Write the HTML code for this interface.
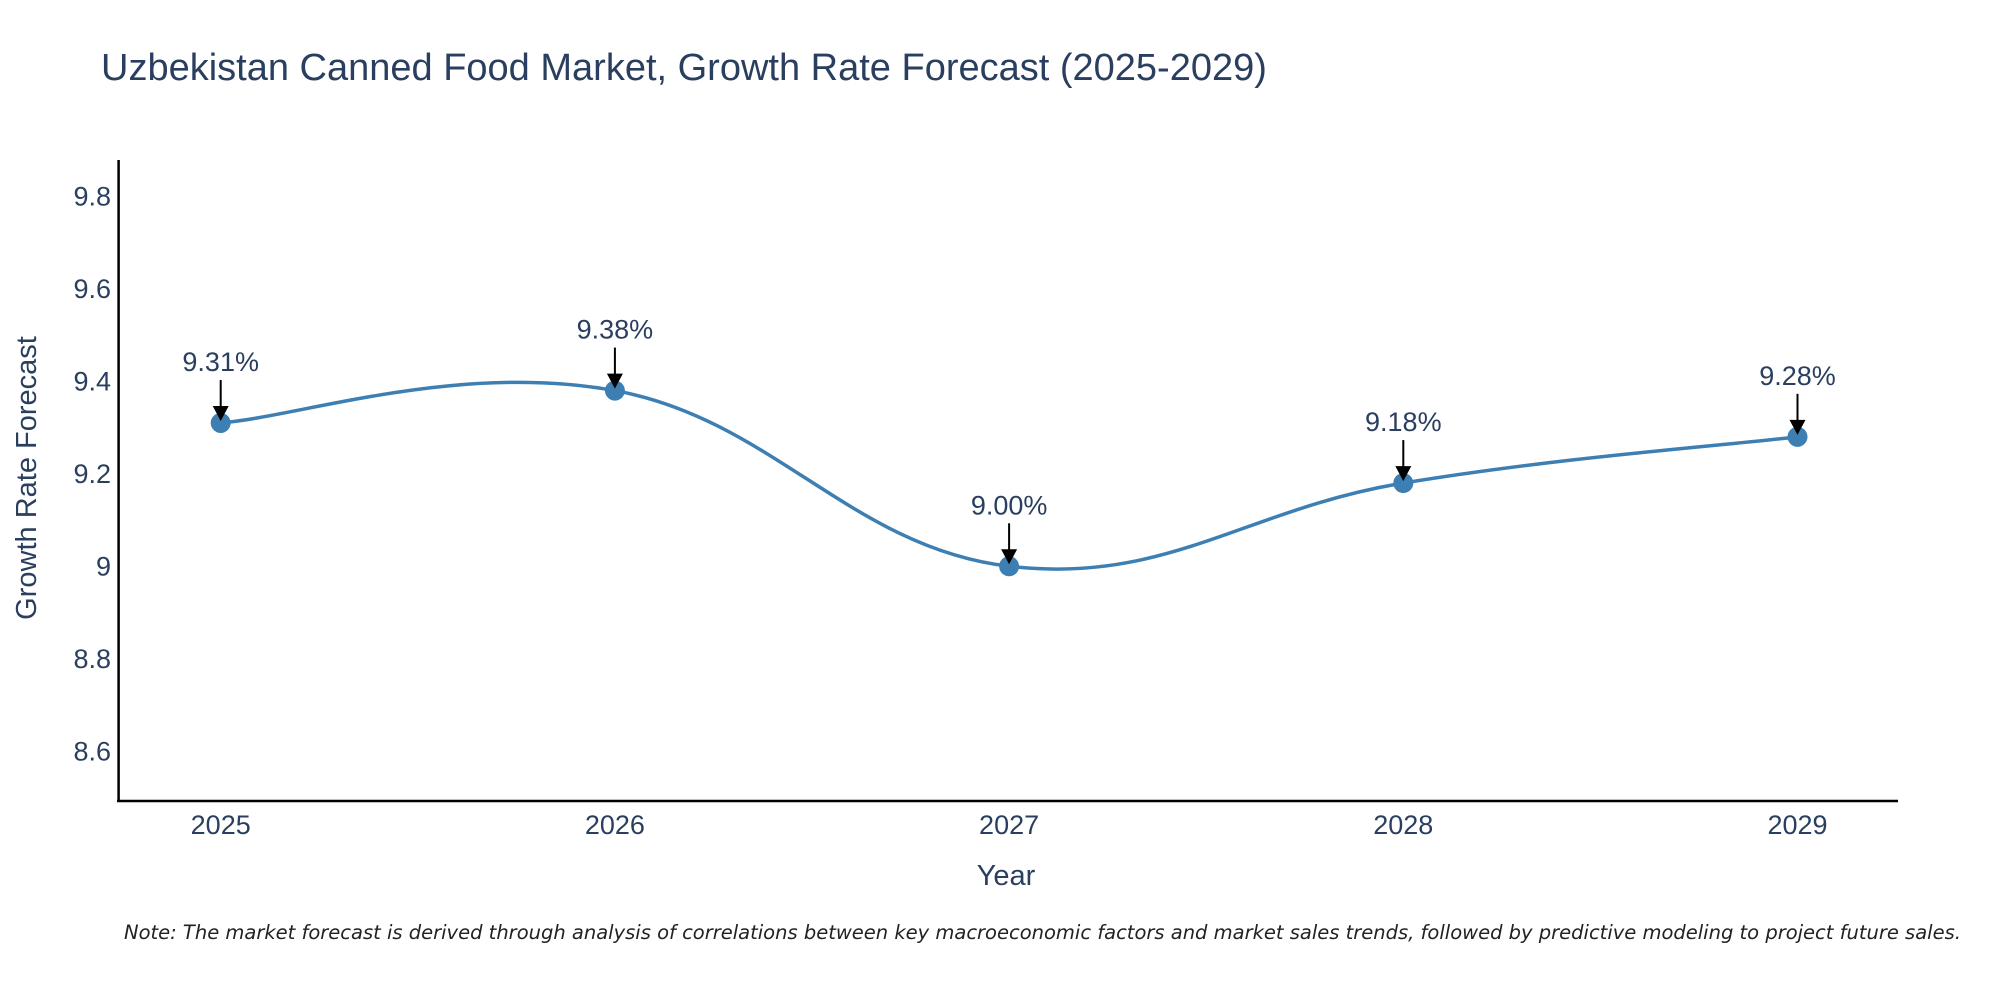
<!DOCTYPE html>
<html><head><meta charset="utf-8">
<style>
html,body{margin:0;padding:0;background:#fff;}
svg{display:block;font-family:"Liberation Sans",Arial,sans-serif;}
</style></head>
<body>
<svg id="chart" width="2000" height="1000" viewBox="0 0 2000 1000">
  <text x="101" y="80" font-size="38" fill="#2a3f5f">Uzbekistan Canned Food Market, Growth Rate Forecast (2025-2029)</text>
  <g id="yticks"></g>
  <g id="xticks"></g>
  <line x1="118.6" y1="160" x2="118.6" y2="802" stroke="#000" stroke-width="2.5"/>
  <line x1="117" y1="801" x2="1898" y2="801" stroke="#000" stroke-width="2.5"/>
  <g id="series"></g>
  <g id="annots"></g>
  <text x="1006" y="885" font-size="29" fill="#2a3f5f" text-anchor="middle">Year</text>
  <text transform="translate(36,478) rotate(-90)" font-size="29" fill="#2a3f5f" text-anchor="middle">Growth Rate Forecast</text>
  <text x="124" y="939" font-size="19.5" font-style="italic" fill="#222" font-family="'DejaVu Sans', sans-serif">Note: The market forecast is derived through analysis of correlations between key macroeconomic factors and market sales trends, followed by predictive modeling to project future sales.</text>
</svg>
<script>
const years = [2025, 2026, 2027, 2028, 2029];
const growth = [9.31, 9.38, 9.00, 9.18, 9.28];
const labels = ["9.31%", "9.38%", "9.00%", "9.18%", "9.28%"];
const yTicks = [8.6, 8.8, 9, 9.2, 9.4, 9.6, 9.8];
const yTickLabels = ["8.6", "8.8", "9", "9.2", "9.4", "9.6", "9.8"];

const NS = "http://www.w3.org/2000/svg";
function X(v){ return 220.7 + (v - 2025) * 394.2; }
function Y(v){ return 566.3 - (v - 9.0) * 462.4; }
function mk(tag, attrs, parent){
  const e = document.createElementNS(NS, tag);
  for (const k in attrs) e.setAttribute(k, attrs[k]);
  parent.appendChild(e);
  return e;
}
const yg = document.getElementById('yticks');
yTicks.forEach((t, i) => {
  const e = mk('text', {x: 111, y: Y(t) + 9, 'font-size': 27, fill: '#2a3f5f', 'text-anchor': 'end'}, yg);
  
  
  e.textContent = yTickLabels[i];
});
const xg = document.getElementById('xticks');
years.forEach(yr => {
  const e = mk('text', {x: X(yr), y: 834, 'font-size': 27, fill: '#2a3f5f', 'text-anchor': 'middle'}, xg);
  
  
  e.textContent = String(yr);
});
const pts = years.map((yr, i) => [X(yr), Y(growth[i])]);
let d = `M${pts[0][0]},${pts[0][1]}`;
for (let i = 0; i < pts.length - 1; i++) {
  const p0 = pts[Math.max(i - 1, 0)], p1 = pts[i], p2 = pts[i + 1], p3 = pts[Math.min(i + 2, pts.length - 1)];
  const t = 0.2;
  const c1 = [p1[0] + (p2[0] - p0[0]) * t, p1[1] + (p2[1] - p0[1]) * t];
  const c2 = [p2[0] - (p3[0] - p1[0]) * t, p2[1] - (p3[1] - p1[1]) * t];
  d += ` C${c1[0]},${c1[1]} ${c2[0]},${c2[1]} ${p2[0]},${p2[1]}`;
}
const sg = document.getElementById('series');
const line = mk('path', {d: d, fill: 'none', stroke: '#3d7fb3', 'stroke-width': 3.5}, sg);


pts.forEach(p => {
  const c = mk('circle', {cx: p[0], cy: p[1], r: 10, fill: '#3d7fb3'}, sg);
  
  
});
const ag = document.getElementById('annots');
pts.forEach((p, i) => {
  const l = mk('line', {x1: p[0], y1: p[1] - 43, x2: p[0], y2: p[1] - 14, stroke: '#000', 'stroke-width': 2}, ag);
  
  
  const h = mk('polygon', {points: `${p[0]-8},${p[1]-17} ${p[0]+8},${p[1]-17} ${p[0]},${p[1]-2}`, fill: '#000'}, ag);
  
  
  const t = mk('text', {x: p[0], y: p[1] - 52, 'font-size': 27, fill: '#2a3f5f', 'text-anchor': 'middle'}, ag);
  
  
  t.textContent = labels[i];
});
</script>
</body></html>
